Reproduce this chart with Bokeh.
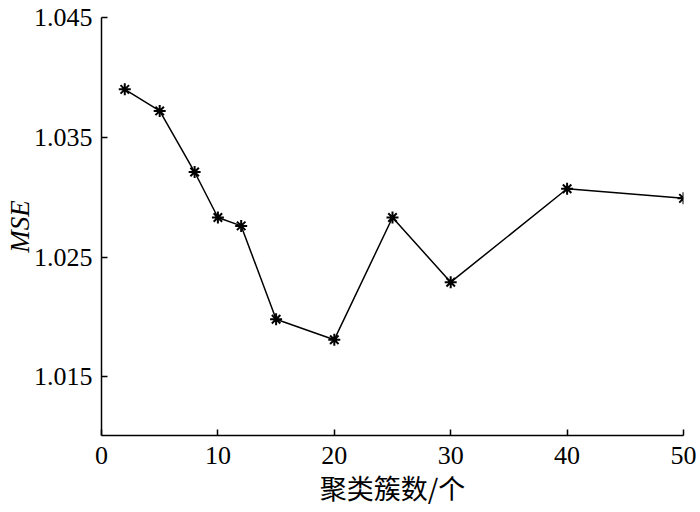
from bokeh.plotting import figure
from bokeh.models import FixedTicker, Range1d, CustomJSTickFormatter
from bokeh.embed import file_html
from bokeh.resources import INLINE

# Data
clusters = [2, 5, 8, 10, 12, 15, 20, 25, 30, 40, 50]
mse = [1.0390, 1.0372, 1.0321, 1.0283, 1.0276, 1.0198, 1.0181, 1.0283, 1.0229, 1.0307, 1.0299]
x_ticks = [0, 10, 20, 30, 40, 50]
y_ticks = [1.015, 1.025, 1.035, 1.045]

p = figure(width=700, height=512, output_backend="svg", toolbar_location=None,
           x_range=Range1d(0, 50), y_range=Range1d(1.0101, 1.045),
           min_border_left=101, min_border_right=17, min_border_top=17, min_border_bottom=77)
p.outline_line_color = None
p.grid.visible = False
p.background_fill_color = "white"
p.border_fill_color = "white"

p.line(clusters, mse, line_color="black", line_width=1.5)
p.scatter(clusters, mse, marker="asterisk", size=12, line_color="black", line_width=2)

for ax in (p.xaxis[0], p.yaxis[0]):
    ax.axis_line_width = 1.5
    ax.axis_line_color = "black"
    ax.major_tick_in = 6
    ax.major_tick_out = 0
    ax.major_tick_line_width = 1.5
    ax.major_tick_line_color = "black"
    ax.minor_tick_line_color = None
    ax.major_label_text_font = "Liberation Serif"
    ax.major_label_text_font_size = "26px"
    ax.major_label_text_color = "black"

p.xaxis.ticker = FixedTicker(ticks=x_ticks)
p.yaxis.ticker = FixedTicker(ticks=y_ticks)
p.yaxis.formatter = CustomJSTickFormatter(code="return tick.toFixed(3);")
p.xaxis.major_label_standoff = 11
p.yaxis.major_label_standoff = 9

p.xaxis.axis_label = "聚类簇数/个"
p.xaxis.axis_label_text_font = "Noto Sans CJK SC"
p.xaxis.axis_label_text_font_style = "normal"
p.xaxis.axis_label_text_font_size = "27px"
p.xaxis.axis_label_text_color = "black"
p.xaxis.axis_label_standoff = 1

p.yaxis.axis_label = "MSE"
p.yaxis.axis_label_text_font = "Liberation Serif"
p.yaxis.axis_label_text_font_style = "italic"
p.yaxis.axis_label_text_font_size = "27px"
p.yaxis.axis_label_text_color = "black"
p.yaxis.axis_label_standoff = -4

open("out.html", "w").write(file_html(p, INLINE))
